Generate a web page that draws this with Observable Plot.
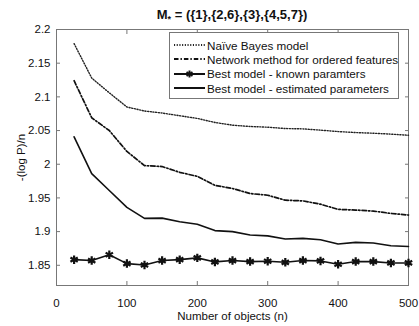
<!DOCTYPE html>
<html>
<head>
<meta charset="utf-8">
<script src="https://cdn.jsdelivr.net/npm/d3@7"></script>
<script src="https://cdn.jsdelivr.net/npm/@observablehq/plot@0.6"></script>
<style>
  html, body { margin: 0; padding: 0; background: #fff; }
  #wrap { position: relative; width: 419px; height: 326px; font-family: "Liberation Sans", Arial, sans-serif; }
  #title { position: absolute; left: 56px; width: 352px; top: 7px; text-align: center; font-weight: bold; font-size: 13px; color: #111; }
  #title sub { font-size: 9px; vertical-align: -3px; line-height: 0; }
  #legend { position: absolute; left: 169px; top: 32px; width: 230px; height: 67px; border: 1px solid #777; background: #fff; box-sizing: border-box; font-size: 11.7px; color: #111; }
  .row { position: absolute; left: 4px; height: 14px; display: flex; align-items: center; }
  .row svg { margin-right: 1px; }
</style>
</head>
<body>
<div id="wrap">
  <div id="title">M<sub>*</sub> = ({1},{2,6},{3},{4,5,7})</div>
  <div id="chart"></div>
  <div id="legend"></div>
</div>
<script>
// ---- data ----
const nObjects = [25,50,75,100,125,150,175,200,225,250,275,300,325,350,375,400,425,450,475,500];
const naiveBayes = [2.179,2.128,2.106,2.085,2.079,2.076,2.072,2.068,2.062,2.058,2.056,2.055,2.053,2.0525,2.0506,2.0485,2.047,2.046,2.0447,2.043];
const networkOrdered = [2.124,2.069,2.050,2.019,1.998,1.9966,1.988,1.982,1.9687,1.964,1.9565,1.954,1.9466,1.9456,1.9407,1.933,1.932,1.9305,1.927,1.9246];
const bestKnown = [1.8584,1.857,1.8657,1.8525,1.8505,1.857,1.8584,1.861,1.855,1.857,1.8555,1.856,1.8544,1.857,1.8565,1.8515,1.8555,1.8555,1.8535,1.8535];
const bestEstimated = [2.0407,1.986,1.961,1.936,1.9197,1.920,1.9147,1.911,1.9015,1.900,1.895,1.8937,1.889,1.890,1.8878,1.8815,1.884,1.883,1.879,1.878];
const seriesNames = ["Naïve Bayes model","Network method for ordered features","Best model - known paramters","Best model - estimated parameters"];
const xTicks = [0,100,200,300,400,500];
const yTicks = [1.85,1.9,1.95,2,2.05,2.1,2.15,2.2];
const yLabelText = "-(log P)/n";
const xLabelText = "Number of objects (n)";

const mk = (vals, s) => nObjects.map((n, i) => ({n, v: vals[i], s}));
const dNaive = mk(naiveBayes, seriesNames[0]);
const dNet = mk(networkOrdered, seriesNames[1]);
const dKnown = mk(bestKnown, seriesNames[2]);
const dEst = mk(bestEstimated, seriesNames[3]);

const styles = {
  naive: {stroke: "#222", strokeWidth: 1.4, strokeDasharray: "1.1,1.6"},
  net: {stroke: "#111", strokeWidth: 1.7, strokeDasharray: "4.5,2,1.4,2"},
  known: {stroke: "#111", strokeWidth: 1.6},
  est: {stroke: "#111", strokeWidth: 1.6}
};

const fmt = d => String(d);
const chart = Plot.plot({
  width: 419,
  height: 326,
  marginLeft: 56,
  marginRight: 11,
  marginTop: 29,
  marginBottom: 41,
  style: {fontFamily: "Liberation Sans, Arial, sans-serif", fontSize: "11.5px", color: "#111", background: "#fff"},
  x: {domain: [0, 500]},
  y: {domain: [1.82, 2.2]},
  marks: [
    Plot.frame({stroke: "#777"}),
    Plot.axisX({anchor: "bottom", ticks: xTicks, tickSize: -4, tickFormat: () => "", label: null, stroke: "#777"}),
    Plot.axisX({anchor: "top", ticks: xTicks, tickSize: -4, tickFormat: () => "", label: null, stroke: "#777"}),
    Plot.axisY({anchor: "left", ticks: yTicks, tickSize: -4, tickFormat: () => "", label: null, stroke: "#777"}),
    Plot.axisY({anchor: "right", ticks: yTicks, tickSize: -4, tickFormat: () => "", label: null, stroke: "#777"}),
    Plot.axisX({anchor: "bottom", ticks: xTicks, tickSize: 0, tickPadding: 13, tickFormat: fmt, label: xLabelText, labelAnchor: "center", labelArrow: "none", labelOffset: 34, fill: "#111"}),
    Plot.axisY({anchor: "left", ticks: yTicks, tickSize: 0, tickPadding: 6, tickFormat: fmt, label: yLabelText, labelAnchor: "center", labelArrow: "none", labelOffset: 40, fill: "#111"}),
    Plot.line(dNaive, {x: "n", y: "v", ...styles.naive}),
    Plot.line(dNet, {x: "n", y: "v", ...styles.net}),
    Plot.line(dEst, {x: "n", y: "v", ...styles.est}),
    Plot.line(dKnown, {x: "n", y: "v", ...styles.known}),
    Plot.dot(dKnown, {x: "n", y: "v", symbol: "asterisk", r: 4, stroke: "#111", strokeWidth: 2.2})
  ]
});
document.getElementById("chart").appendChild(chart);

// legend
const legend = document.getElementById("legend");
const legStyles = [styles.naive, styles.net, styles.known, styles.est];
seriesNames.forEach((name, i) => {
  const row = document.createElement("div");
  row.className = "row";
  row.style.top = (5 + i * 14.4) + "px";
  const st = legStyles[i];
  let svg = `<svg width="32" height="12"><line x1="0" x2="31" y1="6" y2="6" stroke="${st.stroke}" stroke-width="${st.strokeWidth + 0.4}" ${st.strokeDasharray ? `stroke-dasharray="${st.strokeDasharray}"` : ""}/>`;
  if (i === 2) svg += `<g stroke="#111" stroke-width="2"><line x1="15.5" x2="15.5" y1="2.5" y2="9.5"/><line x1="12.5" x2="18.5" y1="4.2" y2="7.8"/><line x1="12.5" x2="18.5" y1="7.8" y2="4.2"/></g>`;
  svg += `</svg>`;
  row.innerHTML = svg + `<span>${name}</span>`;
  legend.appendChild(row);
});
</script>
</body>
</html>
